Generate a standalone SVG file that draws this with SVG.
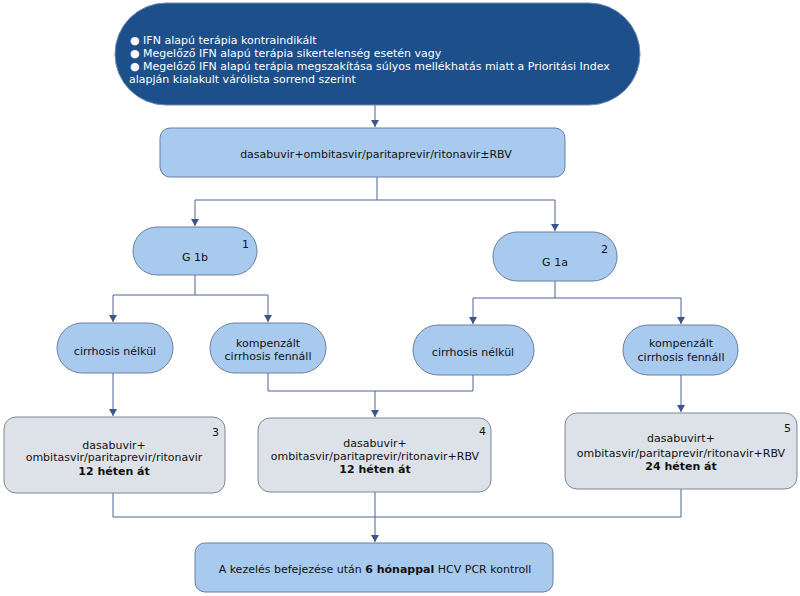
<svg xmlns="http://www.w3.org/2000/svg" width="800" height="596" viewBox="0 0 800 596">
<style>
text { font-family: "DejaVu Sans", Verdana, sans-serif; font-size: 11px; fill: #111; }
.w { fill: #ffffff; }
.c { text-anchor: middle; }
.b { font-weight: bold; }
.n { font-size: 11px; }
.top { fill: #1d4f8b; stroke: #6f8db5; stroke-width: 1; }
.lb { fill: #a8caef; stroke: #6b7f9e; stroke-width: 1; }
.gr { fill: #dde2e8; stroke: #7d8798; stroke-width: 1; }
.ln { fill: none; stroke: #4b6592; stroke-width: 1; }
</style>
<defs>
<marker id="ar" markerWidth="8" markerHeight="9" refX="7" refY="4.5" orient="auto" markerUnits="userSpaceOnUse">
<path d="M0,0.5 L7,4.5 L0,8.5 Z" fill="#3d5688"/>
</marker>
</defs>
<g id="connectors">
<path class="ln" d="M375,105 V127" marker-end="url(#ar)"/>
<path class="ln" d="M377,177 V200 M195,200 H555"/>
<path class="ln" d="M195,200 V226" marker-end="url(#ar)"/>
<path class="ln" d="M555,200 V231" marker-end="url(#ar)"/>
<path class="ln" d="M195,275 V295 M113,295 H268"/>
<path class="ln" d="M113,295 V322" marker-end="url(#ar)"/>
<path class="ln" d="M268,295 V322" marker-end="url(#ar)"/>
<path class="ln" d="M555,281 V298 M473,298 H681"/>
<path class="ln" d="M473,298 V324" marker-end="url(#ar)"/>
<path class="ln" d="M681,298 V324" marker-end="url(#ar)"/>
<path class="ln" d="M113,373 V416" marker-end="url(#ar)"/>
<path class="ln" d="M268,373 V391 H473 V375"/>
<path class="ln" d="M375,391 V417" marker-end="url(#ar)"/>
<path class="ln" d="M681,375 V412" marker-end="url(#ar)"/>
<path class="ln" d="M113,493 V517 H681 V489"/>
<path class="ln" d="M375,492 V542" marker-end="url(#ar)"/>
</g>
<g id="start">
<rect class="top" x="115" y="3" width="525" height="102" rx="51" ry="51"/>
<text class="w" x="130" y="44">●  IFN alapú terápia kontraindikált</text>
<text class="w" x="130" y="57">●  Megelőző IFN alapú terápia sikertelenség esetén vagy</text>
<text class="w" x="130" y="70">●  Megelőző IFN alapú terápia megszakítása súlyos mellékhatás miatt a Prioritási Index</text>
<text class="w" x="129" y="83">alapján kialakult várólista sorrend szerint</text>
</g>
<g id="therapy">
<rect class="lb" x="160" y="128" width="405" height="49" rx="10" ry="10"/>
<text class="c" x="376" y="158">dasabuvir+ombitasvir/paritaprevir/ritonavir±RBV</text>
</g>
<g id="g1b">
<rect class="lb" x="133" y="227" width="124" height="48" rx="24" ry="24"/>
<text class="c" x="195" y="261">G 1b</text>
<text class="n" x="242" y="248">1</text>
</g>
<g id="g1a">
<rect class="lb" x="493" y="232" width="124" height="49" rx="24" ry="24"/>
<text class="c" x="555" y="266">G 1a</text>
<text class="n" x="601" y="253">2</text>
</g>
<g id="nocirr1">
<rect class="lb" x="57" y="323" width="116" height="50" rx="25" ry="25"/>
<text class="c" x="115" y="355">cirrhosis nélkül</text>
</g>
<g id="komp1">
<rect class="lb" x="210" y="323" width="116" height="50" rx="25" ry="25"/>
<text class="c" x="268" y="347">kompenzált</text>
<text class="c" x="268" y="360">cirrhosis fennáll</text>
</g>
<g id="nocirr2">
<rect class="lb" x="413" y="325" width="121" height="50" rx="25" ry="25"/>
<text class="c" x="473" y="356">cirrhosis nélkül</text>
</g>
<g id="komp2">
<rect class="lb" x="623" y="325" width="115" height="50" rx="25" ry="25"/>
<text class="c" x="681" y="347">kompenzált</text>
<text class="c" x="681" y="361">cirrhosis fennáll</text>
</g>
<g id="box3">
<rect class="gr" x="4" y="417" width="221" height="76" rx="12" ry="12"/>
<text class="n" x="212" y="436">3</text>
<text class="c" x="114" y="449">dasabuvir+</text>
<text class="c" x="114" y="461">ombitasvir/paritaprevir/ritonavir</text>
<text class="c b" x="114" y="475">12 héten át</text>
</g>
<g id="box4">
<rect class="gr" x="258" y="418" width="233" height="74" rx="12" ry="12"/>
<text class="n" x="479" y="435">4</text>
<text class="c" x="375" y="447">dasabuvir+</text>
<text class="c" x="375" y="460">ombitasvir/paritaprevir/ritonavir+RBV</text>
<text class="c b" x="375" y="473">12 héten át</text>
</g>
<g id="box5">
<rect class="gr" x="565" y="413" width="232" height="76" rx="12" ry="12"/>
<text class="n" x="784" y="432">5</text>
<text class="c" x="681" y="442">dasabuvirt+</text>
<text class="c" x="681" y="457">ombitasvir/paritaprevir/ritonavir+RBV</text>
<text class="c b" x="681" y="470">24 héten át</text>
</g>
<g id="final">
<rect class="lb" x="195" y="543" width="358" height="49" rx="10" ry="10"/>
<text class="c" x="375" y="573">A kezelés befejezése után <tspan class="b">6 hónappal</tspan> HCV PCR kontroll</text>
</g>
</svg>
